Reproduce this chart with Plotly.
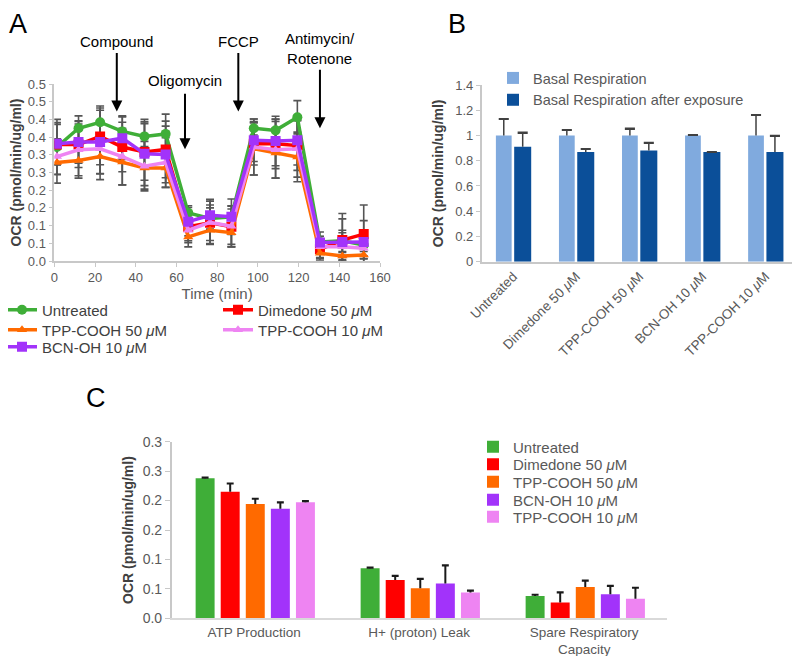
import plotly.graph_objects as go

FONT = "Liberation Sans, Arial, Helvetica, sans-serif"
MU = "<i>μ</i>M"
OFF = 8                 # page body margin
W, H = 800 - OFF, 656 - OFF


def fx(px):
    return (px - OFF) / W


def fy(py):
    return 1 - (py - OFF) / H


# ---------------- Panel A data ----------------
time_min = [1.3, 11.9, 22.5, 33.4, 44.3, 54.7, 65.8, 76.5, 87.0, 98.0, 108.7, 119.4, 130.5, 141.5, 152.0]
ocr_untreated = [0.322, 0.375, 0.392, 0.366, 0.352, 0.359, 0.136, 0.120, 0.125, 0.375, 0.369, 0.406, 0.054, 0.057, 0.045]
err_untreated = [0.078, 0.035, 0.046, 0.044, 0.048, 0.056, 0.020, 0.030, 0.030, 0.019, 0.031, 0.047, 0.015, 0.030, 0.030]
ocr_dimedone = [0.329, 0.329, 0.352, 0.322, 0.308, 0.315, 0.097, 0.108, 0.097, 0.331, 0.331, 0.326, 0.033, 0.059, 0.076]
err_dimedone = [0.057, 0.065, 0.080, 0.070, 0.080, 0.080, 0.040, 0.050, 0.050, 0.060, 0.070, 0.070, 0.030, 0.060, 0.082]
ocr_tpp50 = [0.278, 0.284, 0.295, 0.280, 0.263, 0.263, 0.068, 0.087, 0.080, 0.317, 0.305, 0.294, 0.022, 0.014, 0.017]
err_tpp50 = [0.058, 0.050, 0.065, 0.065, 0.060, 0.055, 0.028, 0.040, 0.040, 0.074, 0.071, 0.070, 0.014, 0.010, 0.010]
ocr_tpp10 = [0.295, 0.314, 0.317, 0.295, 0.268, 0.278, 0.087, 0.109, 0.098, 0.322, 0.314, 0.317, 0.040, 0.040, 0.036]
err_tpp10 = [0.050, 0.073, 0.070, 0.080, 0.070, 0.070, 0.035, 0.060, 0.058, 0.079, 0.080, 0.080, 0.030, 0.040, 0.030]
ocr_bcn = [0.331, 0.336, 0.336, 0.347, 0.303, 0.301, 0.111, 0.129, 0.125, 0.341, 0.339, 0.341, 0.052, 0.054, 0.054]
err_bcn = [0.060, 0.060, 0.090, 0.060, 0.090, 0.080, 0.040, 0.045, 0.050, 0.060, 0.070, 0.070, 0.030, 0.080, 0.060]
a_tick_vals = [0, 0.05, 0.1, 0.15, 0.2, 0.25, 0.3, 0.35, 0.4, 0.45, 0.5]
a_tick_text = ["0.0", "0.1", "0.1", "0.2", "0.2", "0.3", "0.3", "0.4", "0.4", "0.5", "0.5"]
injection_names = ["Compound", "Oligomycin", "FCCP", "Antimycin/<br>Rotenone"]
injection_times = [30.7, 64.2, 90.4, 130.5]

# ---------------- Panel B data ----------------
b_categories = ["Untreated", "Dimedone 50 " + MU, "TPP-COOH 50 " + MU, "BCN-OH 10 " + MU, "TPP-COOH 10 " + MU]
basal = [1.0, 1.0, 1.0, 1.0, 1.0]
basal_err = [0.13, 0.045, 0.057, 0.005, 0.165]
basal_after = [0.911, 0.869, 0.882, 0.869, 0.869]
basal_after_err = [0.114, 0.024, 0.063, 0.003, 0.13]

# ---------------- Panel C data ----------------
c_categories = ["ATP Production", "H+ (proton) Leak", "Spare Respiratory<br>Capacity"]
c_untreated = [0.238, 0.085, 0.038]
c_untreated_err = [0.001, 0.001, 0.002]
c_dimedone = [0.215, 0.065, 0.027]
c_dimedone_err = [0.014, 0.007, 0.017]
c_tpp50 = [0.194, 0.051, 0.053]
c_tpp50_err = [0.009, 0.016, 0.011]
c_bcn = [0.186, 0.059, 0.041]
c_bcn_err = [0.011, 0.031, 0.014]
c_tpp10 = [0.197, 0.044, 0.033]
c_tpp10_err = [0.002, 0.003, 0.019]
c_tick_vals = [0, 0.05, 0.1, 0.15, 0.2, 0.25, 0.3]
c_tick_text = ["0.0", "0.1", "0.1", "0.2", "0.2", "0.3", "0.3"]

GREEN = "#3FAE38"
RED = "#FF0000"
ORANGE = "#FF6A00"
PURPLE = "#A233FA"
PINK = "#EE84F2"
LIGHTBLUE = "#80AADE"
DARKBLUE = "#0B4F99"
TICKC = "#595959"
AXC = "#C8C8C8"

fig = go.Figure()

# legend placement (reference pixel: text start x, row centre y)
a_leg_pos = {
    "Untreated": (42, 310), "Dimedone": (258, 310), "TPP-COOH 50": (42, 330),
    "TPP-COOH 10": (258, 330), "BCN-OH": (42, 347),
}
c_leg_y = [447, 464.5, 482, 500, 517]

legends = {}
leg_counter = [0]


def new_legend(text_x, cy, color, size=15):
    leg_counter[0] += 1
    key = "legend" if leg_counter[0] == 1 else "legend%d" % leg_counter[0]
    legends[key] = dict(x=fx(text_x - 40), y=fy(cy), xanchor="left", yanchor="middle",
                        orientation="v", font=dict(size=size, color=color), bgcolor="rgba(0,0,0,0)",
                        borderwidth=0, tracegroupgap=0)
    return key


def bar_with_upper_error(cats, vals, errs, name, color, width, offset, err_color, err_thick,
                         cap_w, cap_h, legend, xa, ya):
    """Bar trace with only the upper half of the error bar (line + top cap)."""
    fig.add_trace(go.Bar(
        x=cats, y=vals, name=name, marker=dict(color=color, line=dict(width=0)),
        width=width, offset=offset,
        error_y=dict(type="data", array=errs, arrayminus=[0] * len(errs), symmetric=False,
                     color=err_color, thickness=err_thick, width=0),
        legend=legend, xaxis=xa, yaxis=ya))
    fig.add_trace(go.Bar(
        x=cats, y=[cap_h] * len(vals), base=[v + e - cap_h / 2 for v, e in zip(vals, errs)],
        marker=dict(color=err_color, line=dict(width=0)),
        width=cap_w, offset=offset + width / 2 - cap_w / 2,
        showlegend=False, hoverinfo="skip", xaxis=xa, yaxis=ya))


# ---- Panel A: error bars first (under lines) ----
a_series = [
    ("Untreated", ocr_untreated, err_untreated, GREEN, "circle", "Untreated"),
    ("Dimedone 50 " + MU, ocr_dimedone, err_dimedone, RED, "square", "Dimedone"),
    ("TPP-COOH 50 " + MU, ocr_tpp50, err_tpp50, ORANGE, "triangle-up", "TPP-COOH 50"),
    ("TPP-COOH 10 " + MU, ocr_tpp10, err_tpp10, PINK, "triangle-up", "TPP-COOH 10"),
    ("BCN-OH 10 " + MU, ocr_bcn, err_bcn, PURPLE, "square", "BCN-OH"),
]
for name, vals, errs, col, sym, key in a_series:
    fig.add_trace(go.Scatter(
        x=time_min, y=vals, mode="markers", marker=dict(size=1, opacity=0),
        error_y=dict(type="data", array=errs, visible=True, color="#555555", thickness=1.6, width=4),
        showlegend=False, hoverinfo="skip", xaxis="x", yaxis="y"))
for name, vals, errs, col, sym, key in a_series:
    tx, cy = a_leg_pos[key]
    fig.add_trace(go.Scatter(
        x=time_min, y=vals, mode="lines+markers", name=name,
        line=dict(color=col, width=3.5),
        marker=dict(color=col, size=10 if sym != "triangle-up" else 9, symbol=sym),
        legend=new_legend(tx, cy, "#404040"), xaxis="x", yaxis="y"))

# ---- Panel B ----
leg_b = new_legend(533, 89, TICKC, size=14.5)
bar_with_upper_error(b_categories, basal, basal_err, "Basal Respiration", LIGHTBLUE, 0.25, -0.275,
                     "#404040", 1.5, 0.16, 0.012, leg_b, "x2", "y2")
bar_with_upper_error(b_categories, basal_after, basal_after_err, "Basal Respiration after exposure",
                     DARKBLUE, 0.27, 0.015, "#404040", 1.5, 0.16, 0.012, leg_b, "x2", "y2")

# ---- Panel C ----
c_series = [
    ("Untreated", c_untreated, c_untreated_err, GREEN),
    ("Dimedone 50 " + MU, c_dimedone, c_dimedone_err, RED),
    ("TPP-COOH 50 " + MU, c_tpp50, c_tpp50_err, ORANGE),
    ("BCN-OH 10 " + MU, c_bcn, c_bcn_err, PURPLE),
    ("TPP-COOH 10 " + MU, c_tpp10, c_tpp10_err, PINK),
]
for i, (name, vals, errs, col) in enumerate(c_series):
    bar_with_upper_error(c_categories, vals, errs, name, col, 0.115, -0.355 + i * 0.152,
                         "#1a1a1a", 2, 0.042, 0.0036, new_legend(513, c_leg_y[i], TICKC), "x3", "y3")

# ---- Annotations ----
ann = []
for lbl, px, py in [("A", 18, None), ("B", 457, None), ("C", 96, 398)]:
    if py is None:
        ann.append(dict(text=lbl, x=fx(px), y=1, xref="paper", yref="paper",
                        showarrow=False, xanchor="center", yanchor="top", borderpad=0,
                        font=dict(size=27, color="black", family=FONT)))
    else:
        ann.append(dict(text=lbl, x=fx(px), y=fy(py), xref="paper", yref="paper",
                        showarrow=False, xanchor="center", yanchor="middle",
                        font=dict(size=27, color="black", family=FONT)))
arrow_tip = [0.422, 0.316, 0.422, 0.375]
arrow_len = [60, 57, 60, 60]
text_ypx = [41, 80, 41, 49]
for nm, t, tip, ln, ty in zip(injection_names, injection_times, arrow_tip, arrow_len, text_ypx):
    ann.append(dict(text="", x=t, y=tip, xref="x", yref="y", ax=0, ay=-ln,
                    showarrow=True, arrowhead=2, arrowsize=1.1, arrowwidth=2, arrowcolor="black"))
    ann.append(dict(text=nm, x=t, y=fy(ty), xref="x", yref="paper", showarrow=False,
                    xanchor="center", yanchor="middle",
                    font=dict(size=15, color="black", family=FONT)))

ytitle = "<b>OCR (pmol/min/ug/ml)</b>"
fig.update_layout(
    width=W, height=H, margin=dict(l=0, r=0, t=0, b=0, autoexpand=False),
    paper_bgcolor="white", plot_bgcolor="white",
    font=dict(family=FONT, color=TICKC),
    barmode="overlay", annotations=ann,
    xaxis=dict(domain=[fx(54.3), fx(380)], range=[0, 160], tickvals=[0, 20, 40, 60, 80, 100, 120, 140, 160],
               showgrid=False, zeroline=False, showline=True, linecolor=AXC, linewidth=1.5,
               ticks="outside", ticklen=4, tickcolor=AXC, tickfont=dict(size=13, color=TICKC),
               title=dict(text="Time (min)", font=dict(size=15, color=TICKC), standoff=4),
               automargin=True, anchor="y"),
    yaxis=dict(domain=[fy(261), fy(84)], range=[0, 0.5], tickvals=a_tick_vals, ticktext=a_tick_text,
               showgrid=False, zeroline=False, showline=True, linecolor=AXC, linewidth=1.5,
               ticks="outside", ticklen=4, tickcolor=AXC, tickfont=dict(size=13, color=TICKC),
               title=dict(text=ytitle, font=dict(size=14, color="#404040"), standoff=6),
               automargin=True, anchor="x"),
    xaxis2=dict(domain=[fx(481.7), fx(797)], range=[-0.5, 4.5], showgrid=False, zeroline=False,
                showline=True, linecolor=AXC, linewidth=1.5, tickangle=-45,
                tickfont=dict(size=13.5, color=TICKC), automargin=False, anchor="y2"),
    yaxis2=dict(domain=[fy(261.7), fy(85)], range=[0, 1.4], dtick=0.2, showgrid=False,
                zeroline=False, showline=True, linecolor=AXC, linewidth=1.5,
                ticks="outside", ticklen=4, tickcolor=AXC, tickfont=dict(size=13, color=TICKC),
                title=dict(text=ytitle, font=dict(size=14, color="#404040"), standoff=8),
                automargin=True, anchor="x2"),
    xaxis3=dict(domain=[fx(171.7), fx(666.7)], range=[-0.5, 2.5], showgrid=False, zeroline=False,
                showline=True, linecolor="#D9D9D9", linewidth=2,
                tickfont=dict(size=13.5, color=TICKC), automargin=False, anchor="y3"),
    yaxis3=dict(domain=[fy(618.3), fy(441.7)], range=[0, 0.3], tickvals=c_tick_vals,
                ticktext=c_tick_text, showgrid=False, zeroline=False, showline=True, linecolor=AXC,
                linewidth=1.5, ticks="outside", ticklen=5, tickcolor=AXC,
                tickfont=dict(size=14, color=TICKC),
                title=dict(text=ytitle, font=dict(size=14, color="#404040"), standoff=6),
                automargin=True, anchor="x3"),
    **legends,
)

fig.write_html("out.html")
